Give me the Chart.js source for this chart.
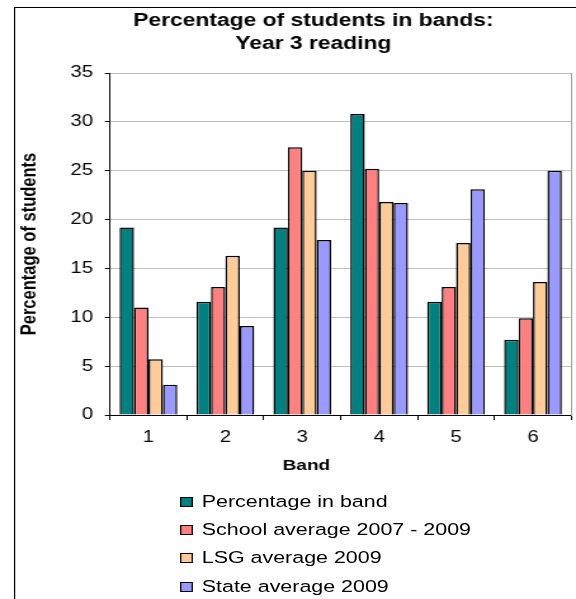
<!DOCTYPE html>
<html lang="en">
<head>
    <meta charset="UTF-8">
    <title>Percentage of students in bands: Year 3 reading</title>
    <script src="https://cdn.jsdelivr.net/npm/chart.js"></script>
    <style>
        html, body { margin: 0; padding: 0; background: #fff; overflow: hidden; width: 576px; height: 599px; }
        /* the original picture is stretched sideways, so draw narrow and scale x */
        #wrap { position: absolute; left: 0; top: 0; width: 494px; height: 599px; transform: scaleX(1.2687); transform-origin: 0 0; }
        #frame { position: absolute; left: 10.5px; top: 7px; width: 600px; height: 700px; border: 1px solid #000; }
        #chart { position: absolute; left: 0; top: 0; }
        #legend { position: absolute; left: 141.5px; top: 487.5px; font: 16.9px 'Liberation Sans', Arial, sans-serif; color: #000; }
        .item { height: 28.33px; display: flex; align-items: center; white-space: nowrap; }
        .box { width: 10px; height: 10px; border: 1.5px solid #000; box-sizing: border-box; margin-right: 7.5px; }
    </style>
</head>
<body>
<div id="wrap">
    <div id="frame"></div>
    <canvas id="chart" width="494" height="599"></canvas>
    <div id="legend"></div>
</div>
<script>
    // values
    const bands = ['1', '2', '3', '4', '5', '6'];
    const pctInBand = [19.2, 11.6, 19.2, 30.8, 11.6, 7.7];
    const schoolAvg = [11.0, 13.1, 27.4, 25.2, 13.1, 9.9];
    const lsgAvg = [5.7, 16.3, 25.0, 21.8, 17.6, 13.6];
    const stateAvg = [3.1, 9.1, 17.9, 21.7, 23.1, 25.0];

    const seriesNames = ['Percentage in band', 'School average 2007 - 2009', 'LSG average 2009', 'State average 2009'];
    const seriesColors = ['#008080', '#FF8080', '#FFCC99', '#9999FF'];
    const seriesValues = [pctInBand, schoolAvg, lsgAvg, stateAvg];

    const FONT = "'Liberation Sans', Arial, sans-serif";
    Chart.defaults.font.family = FONT;
    Chart.defaults.color = '#000';

    const chart = new Chart(document.getElementById('chart'), {
        type: 'bar',
        data: {
            labels: bands,
            datasets: seriesValues.map((vals, i) => ({
                label: seriesNames[i],
                data: vals,
                backgroundColor: seriesColors[i],
                borderColor: '#000',
                borderWidth: 1.5,
                categoryPercentage: 0.75,
                barPercentage: 1,
            })),
        },
        options: {
            responsive: false,
            animation: false,
            layout: { padding: { left: 0, right: 0, top: 0, bottom: 123 } },
            plugins: {
                legend: { display: false },
                tooltip: { enabled: false },
                title: {
                    display: true,
                    text: ['Percentage of students in bands:', 'Year 3 reading'],
                    color: '#000',
                    font: { size: 18, weight: 'bold', lineHeight: 23 / 18 },
                    padding: { top: 9.5, bottom: 17.5 },
                },
            },
            scales: {
                x: {
                    grid: { drawOnChartArea: false, drawTicks: true, tickLength: 5, tickColor: '#000' },
                    border: { color: '#000', width: 1 },
                    ticks: { padding: 8.4, color: '#000', font: { size: 16 } },
                    title: {
                        display: true,
                        // trailing spaces pull the title left, like the original
                        text: 'Band' + ' '.repeat(13),
                        color: '#000',
                        font: { size: 15, weight: 'bold' },
                        padding: { top: 0, bottom: 1.3 },
                    },
                    afterFit: s => { s.height = 61; },
                },
                y: {
                    min: 0,
                    max: 35,
                    ticks: { stepSize: 5, padding: 9.4, color: '#000', font: { size: 16 } },
                    grid: { color: '#c0c0c0', tickColor: '#000', tickLength: 4 },
                    border: { color: '#000', width: 1 },
                    title: {
                        display: true,
                        text: 'Percentage of students',
                        color: '#000',
                        font: { size: 16.5, weight: 'bold' },
                        padding: { top: 13.3, bottom: 0 },
                    },
                    afterFit: s => { s.width = 86.7; },
                },
                y2: {
                    position: 'right',
                    display: true,
                    grid: { drawOnChartArea: false, drawTicks: false },
                    ticks: { display: false },
                    border: { color: '#a0a0a0', width: 1 },
                    afterFit: s => { s.width = 43.6; },
                },
            },
        },
    });

    // legend as a vertical list under the chart
    const legendEl = document.getElementById('legend');
    chart.data.datasets.forEach(ds => {
        const row = document.createElement('div');
        row.className = 'item';
        const box = document.createElement('span');
        box.className = 'box';
        box.style.background = ds.backgroundColor;
        row.appendChild(box);
        row.appendChild(document.createTextNode(ds.label));
        legendEl.appendChild(row);
    });
</script>
</body>
</html>
